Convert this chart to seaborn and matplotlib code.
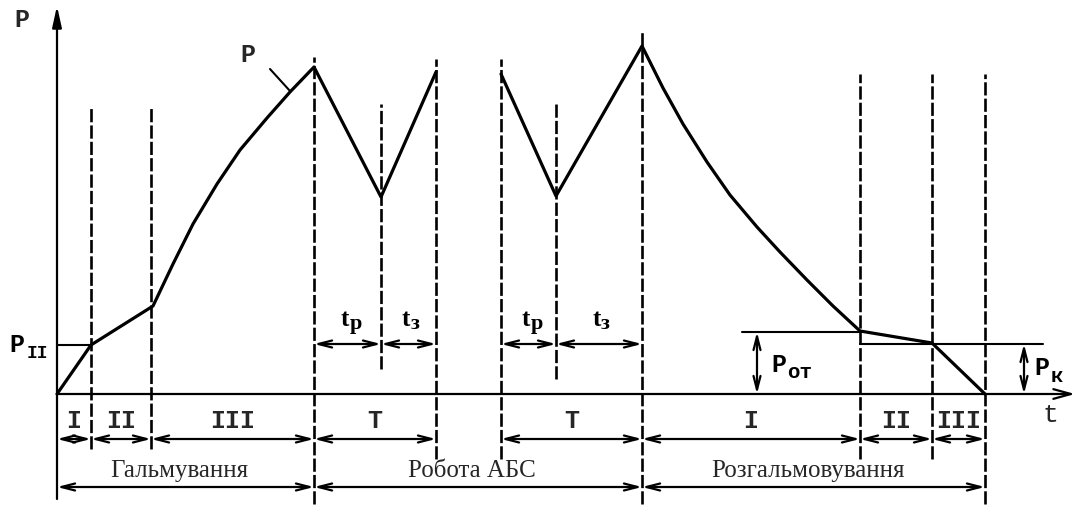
import matplotlib
matplotlib.use("Agg")
import matplotlib.pyplot as plt
import seaborn as sns
import pandas as pd

# ===== DATA (drawing units: t along the time axis, P up from the baseline) =====
CURVE_T_1 = [0.0, 3.4, 9.6, 11.6, 13.6, 16.0, 18.3, 21.0, 23.3, 25.7, 32.4, 37.9]
CURVE_P_1 = [0.0, 4.9, 8.8, 13.0, 17.0, 21.0, 24.4, 27.6, 30.2, 32.7, 19.7, 32.2]
CURVE_T_2 = [44.4, 49.9, 58.5, 60.6, 62.6, 65.0, 67.3, 70.0, 72.3, 75.0, 77.6, 80.3, 87.5, 92.8]
CURVE_P_2 = [32.0, 19.8, 34.8, 30.6, 27.0, 23.2, 19.9, 16.7, 14.2, 11.4, 8.8, 6.3, 5.1, 0.0]

# dashed phase boundaries
MARK_T = [3.4, 9.4, 25.7, 32.4, 37.9, 44.4, 49.9, 58.5, 80.3, 87.5, 92.8]
MARK_TOP = [28.7, 28.7, 33.7, 29.0, 33.5, 33.5, 29.0, 36.3, 32.0, 32.0, 32.0]
MARK_BOTTOM = [-5.5, -5.5, -11.0, 2.5, -6.5, -6.5, 1.5, -11.0, -6.5, -6.5, -11.0]

# phase row (I, II, III, T ...)
PHASE_LABELS = ["I", "II", "III", "T", "T", "I", "II", "III"]
PHASE_START = [0.0, 3.4, 9.4, 25.7, 44.4, 58.5, 80.3, 87.5]
PHASE_END = [3.4, 9.4, 25.7, 37.9, 58.5, 80.3, 87.5, 92.8]

# ABS cycle row (t_р, t_з)
CYCLE_SUB = ["р", "з", "р", "з"]
CYCLE_START = [25.7, 32.4, 44.4, 49.9]
CYCLE_END = [32.4, 37.9, 49.9, 58.5]

# stages
STAGE_LABELS = ["Гальмування", "Робота АБС", "Розгальмовування"]
STAGE_START = [0.0, 25.7, 58.5]
STAGE_END = [25.7, 58.5, 92.8]

# pressure levels
P_II = 4.9
P_OT = 6.2
P_K = 5.0
T_OT = [68.5, 80.3]
T_K = [80.3, 98.6]

MONO = "Liberation Mono"
SERIF = "Liberation Serif"
INK = "black"


def dbl_arrow(ax, x0, y0, x1, y1):
    ax.annotate("", xy=(x1, y1), xytext=(x0, y0),
                arrowprops=dict(arrowstyle="<->,head_length=0.7,head_width=0.18",
                                color=INK, lw=1.6, shrinkA=0, shrinkB=0,
                                mutation_scale=14))


def sub_label(ax, x, y, main, sub, family, size, subsize, dx=0.0, dy=-0.8):
    ax.text(x, y, main, family=family, fontweight="bold", fontsize=size,
            ha="right", va="center", color=INK)
    ax.text(x + dx, y + dy, sub, family=family, fontweight="bold",
            fontsize=subsize, ha="left", va="center", color=INK)


def plot_diagram():
    sns.set_theme(style="white")
    fig = plt.figure(figsize=(10.81, 5.10), dpi=100)
    ax = fig.add_axes([0, 0, 1, 1])
    ax.set_xlim(-5.7, 102.4)
    ax.set_ylim(-11.5, 39.5)
    ax.axis("off")

    # --- pressure curve ---
    for t, p in [(CURVE_T_1, CURVE_P_1), (CURVE_T_2, CURVE_P_2)]:
        df = pd.DataFrame({"t": t, "P": p})
        sns.lineplot(data=df, x="t", y="P", ax=ax, color=INK, lw=2.3,
                     sort=False, estimator=None)

    # --- axes ---
    ax.annotate("", xy=(0, 38.8), xytext=(0, -10.5),
                arrowprops=dict(arrowstyle="-|>,head_length=0.9,head_width=0.2",
                                color=INK, lw=1.6, shrinkA=0, shrinkB=0,
                                mutation_scale=14))
    ax.annotate("", xy=(101.8, 0), xytext=(0, 0),
                arrowprops=dict(arrowstyle="->,head_length=0.9,head_width=0.25",
                                color=INK, lw=1.6, shrinkA=0, shrinkB=0,
                                mutation_scale=14))
    ax.text(-3.5, 37.5, "P", family=MONO, fontweight="bold", fontsize=18,
            ha="center", va="center")
    ax.text(99.3, -2.0, "t", family=MONO, fontsize=19, ha="center", va="center")

    # --- dashed boundaries ---
    for t, top, bot in zip(MARK_T, MARK_TOP, MARK_BOTTOM):
        ax.plot([t, t], [bot, top], color=INK, lw=1.9, ls=(0, (5, 1.2)))

    # curve label with leader
    ax.plot([21.3, 23.3], [32.5, 30.3], color=INK, lw=1.5)
    ax.text(19.1, 34.0, "P", family=MONO, fontweight="bold", fontsize=18,
            ha="center", va="center")

    # --- P_II level ---
    ax.plot([0, CURVE_T_1[1]], [P_II, P_II], color=INK, lw=1.5)
    sub_label(ax, -3.3, 5.0, "P", "II", MONO, 18, 13, dx=0.3, dy=-0.8)

    # --- P_от and P_к ---
    ax.plot(T_OT, [P_OT, P_OT], color=INK, lw=1.5)
    ax.plot(T_K, [P_K, P_K], color=INK, lw=1.5)
    dbl_arrow(ax, 70.0, 0, 70.0, P_OT)
    dbl_arrow(ax, 96.7, 0, 96.7, P_K)
    sub_label(ax, 72.9, 3.0, "P", "от", MONO, 18, 15, dx=0.1, dy=-0.8)
    sub_label(ax, 99.2, 2.7, "P", "к", MONO, 18, 15, dx=0.2, dy=-0.8)

    # --- rows of interval arrows ---
    for s, e, sub in zip(CYCLE_START, CYCLE_END, CYCLE_SUB):
        dbl_arrow(ax, s, 5.0, e, 5.0)
        sub_label(ax, (s + e) / 2 + 0.2, 7.6, "t", sub, SERIF, 18, 16,
                  dx=0.0, dy=-0.5)

    for s, e, lab in zip(PHASE_START, PHASE_END, PHASE_LABELS):
        dbl_arrow(ax, s, -4.5, e, -4.5)
        ax.text((s + e) / 2, -2.6, lab, family=MONO, fontweight="bold",
                fontsize=18, ha="center", va="center")

    for s, e, lab in zip(STAGE_START, STAGE_END, STAGE_LABELS):
        dbl_arrow(ax, s, -9.3, e, -9.3)
        ax.text((s + e) / 2 - 0.6, -7.6, lab, family=SERIF, fontsize=18,
                ha="center", va="center")

    fig.savefig("out.png", dpi=100)


if __name__ == "__main__":
    plot_diagram()
